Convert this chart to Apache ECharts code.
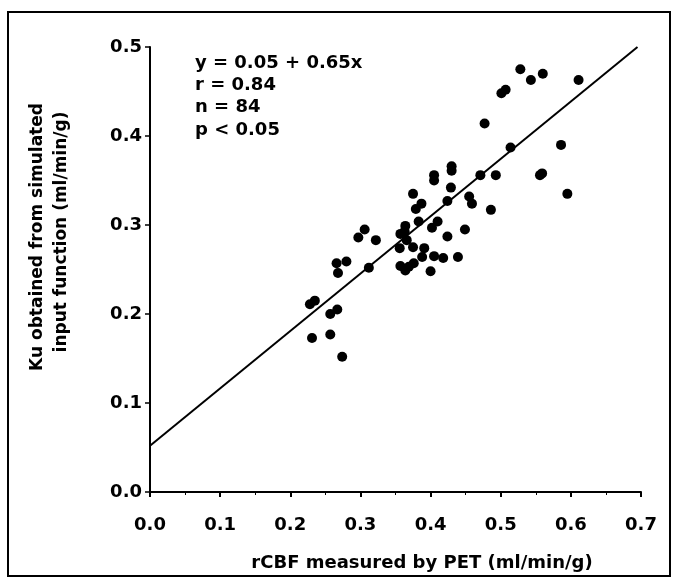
<!DOCTYPE html>
<html>
<head>
    <meta charset="utf-8" />
    <title>Ku vs rCBF</title>
    <script type="text/javascript" src="https://cdn.jsdelivr.net/npm/echarts@6/dist/echarts.min.js"></script>
    <style>
        html, body { margin: 0; padding: 0; background: #fff; }
        #chart { width: 676px; height: 582px; }
    </style>
</head>
<body>
<div id="chart"></div>
<script type="text/javascript">
    // rCBF measured by PET (x) and Ku from simulated input function (y)
    var rcbf = [0.528, 0.543, 0.560, 0.611, 0.501, 0.507, 0.477, 0.514, 0.586, 0.405,
                0.405, 0.430, 0.430, 0.429, 0.471, 0.493, 0.559, 0.556, 0.375, 0.387,
                0.379, 0.424, 0.455, 0.459, 0.486, 0.595, 0.383, 0.364, 0.363, 0.357,
                0.410, 0.402, 0.449, 0.366, 0.424, 0.306, 0.297, 0.322, 0.356, 0.375,
                0.391, 0.388, 0.405, 0.418, 0.439, 0.357, 0.364, 0.369, 0.376, 0.400,
                0.312, 0.266, 0.280, 0.268, 0.228, 0.235, 0.257, 0.267, 0.231, 0.257,
                0.274];
    var ku   = [0.475, 0.463, 0.470, 0.463, 0.448, 0.452, 0.414, 0.387, 0.390, 0.356,
                0.350, 0.366, 0.361, 0.342, 0.356, 0.356, 0.358, 0.356, 0.335, 0.324,
                0.318, 0.327, 0.332, 0.324, 0.317, 0.335, 0.304, 0.299, 0.293, 0.290,
                0.304, 0.297, 0.295, 0.283, 0.287, 0.295, 0.286, 0.283, 0.274, 0.275,
                0.274, 0.264, 0.265, 0.263, 0.264, 0.254, 0.249, 0.253, 0.257, 0.248,
                0.252, 0.257, 0.259, 0.246, 0.211, 0.215, 0.200, 0.205, 0.173, 0.177,
                0.152];

    // regression line end points (y = 0.05 + 0.65x)
    var fitX = [0.0, 0.695];
    var fitY = [0.052, 0.500];

    var xTicks = [0.0, 0.1, 0.2, 0.3, 0.4, 0.5, 0.6, 0.7];
    var yTicks = [0.0, 0.1, 0.2, 0.3, 0.4, 0.5];

    var statLines = ['y = 0.05 + 0.65x', 'r = 0.84', 'n = 84', 'p < 0.05'];

    var points = [];
    for (var i = 0; i < rcbf.length; i++) {
        points.push([rcbf[i], ku[i]]);
    }
    var fitLine = [];
    for (var j = 0; j < fitX.length; j++) {
        fitLine.push([fitX[j], fitY[j]]);
    }

    var font = '"DejaVu Sans", "Liberation Sans", sans-serif';
    var myChart = echarts.init(document.getElementById('chart'));

    var statText = [];
    for (var k = 0; k < statLines.length; k++) {
        statText.push({
            type: 'text',
            x: 195,
            y: 63 + k * 22.3,
            style: {
                text: statLines[k],
                fill: '#000',
                font: 'bold 18px ' + font,
                verticalAlign: 'middle'
            }
        });
    }

    var option = {
        animation: false,
        backgroundColor: '#fff',
        grid: { left: 150, right: 35, top: 47, bottom: 90 },
        xAxis: {
            type: 'value',
            min: xTicks[0],
            max: xTicks[xTicks.length - 1],
            interval: 0.1,
            splitLine: { show: false },
            axisLine: { show: true, lineStyle: { color: '#000', width: 2 } },
            axisTick: { show: true, length: 5, lineStyle: { color: '#000', width: 2 } },
            minorTick: { show: true, splitNumber: 2, length: 3, lineStyle: { color: '#000', width: 1 } },
            axisLabel: {
                margin: 24,
                color: '#000',
                fontFamily: font,
                fontWeight: 'bold',
                fontSize: 18,
                formatter: function (v) { return v.toFixed(1); }
            }
        },
        yAxis: {
            type: 'value',
            min: yTicks[0],
            max: yTicks[yTicks.length - 1],
            interval: 0.1,
            splitLine: { show: false },
            axisLine: { show: true, lineStyle: { color: '#000', width: 2 } },
            axisTick: { show: true, length: 5, lineStyle: { color: '#000', width: 1.5 } },
            axisLabel: {
                margin: 8,
                color: '#000',
                fontFamily: font,
                fontWeight: 'bold',
                fontSize: 18,
                formatter: function (v) { return v.toFixed(1); }
            }
        },
        series: [
            {
                type: 'scatter',
                data: points,
                symbol: 'circle',
                symbolSize: 10,
                itemStyle: { color: '#000', opacity: 1 },
                z: 3
            },
            {
                type: 'line',
                data: fitLine,
                showSymbol: false,
                symbol: 'none',
                lineStyle: { color: '#000', width: 2 },
                z: 2
            }
        ],
        graphic: [
            {
                type: 'rect',
                shape: { x: 8, y: 12, width: 662, height: 564 },
                style: { fill: 'none', stroke: '#000', lineWidth: 2 },
                silent: true
            },
            {
                type: 'text',
                x: 422,
                y: 563,
                style: {
                    text: 'rCBF measured by PET (ml/min/g)',
                    fill: '#000',
                    font: 'bold 18px ' + font,
                    align: 'center',
                    verticalAlign: 'middle'
                }
            },
            {
                type: 'text',
                x: 38,
                y: 237,
                rotation: Math.PI / 2,
                style: {
                    text: 'Ku obtained from simulated',
                    fill: '#000',
                    font: 'bold 17px ' + font,
                    align: 'center',
                    verticalAlign: 'middle'
                }
            },
            {
                type: 'text',
                x: 62,
                y: 232,
                rotation: Math.PI / 2,
                style: {
                    text: 'input function (ml/min/g)',
                    fill: '#000',
                    font: 'bold 17px ' + font,
                    align: 'center',
                    verticalAlign: 'middle'
                }
            }
        ].concat(statText)
    };
    myChart.setOption(option);
</script>
</body>
</html>
